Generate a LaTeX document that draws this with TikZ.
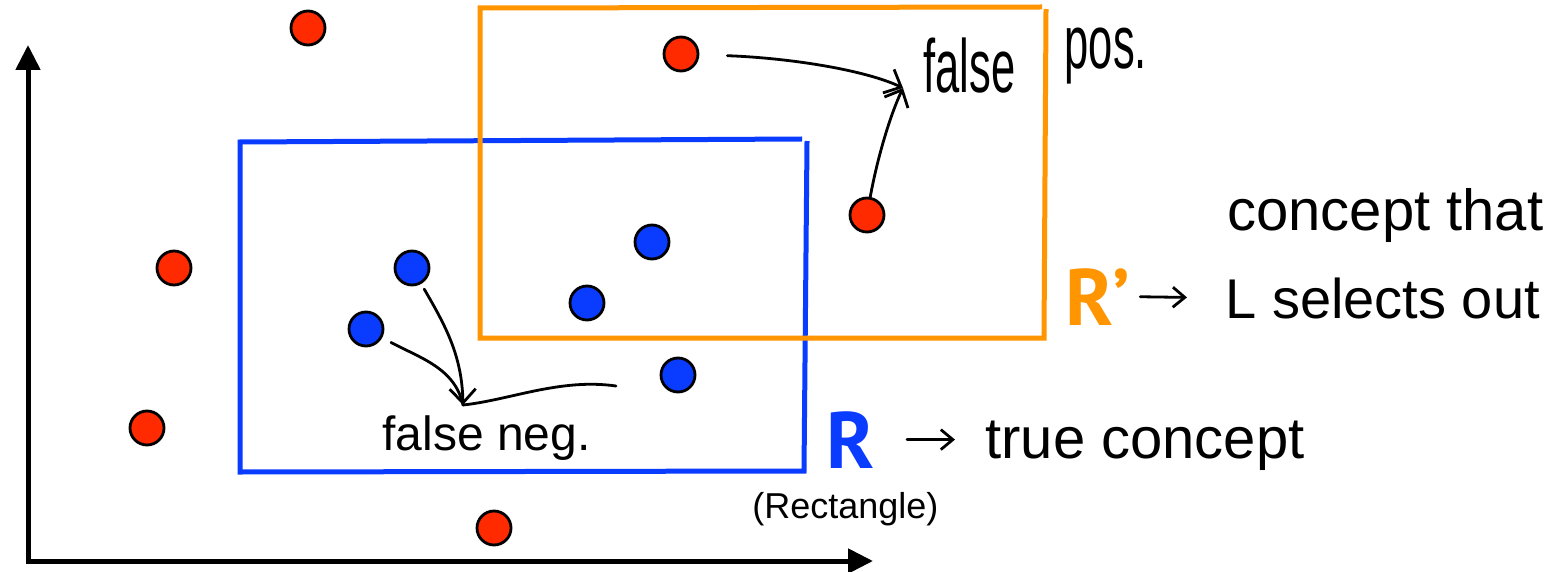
\documentclass[tikz,border=0pt]{standalone}
\usepackage{fontspec}
\setmainfont{Liberation Sans}
\newfontfamily\labelfont{PT Sans}
\usetikzlibrary{arrows.meta}
\definecolor{rorange}{HTML}{FF9500}
\definecolor{rblue}{HTML}{0A3CFF}
\definecolor{dotred}{HTML}{FF2A00}
\begin{document}
\begin{tikzpicture}[x=0.5pt,y=-0.5pt,
  dot/.style={circle,draw=black,line width=1.4pt,minimum size=17pt,inner sep=0pt},
  reddot/.style={dot,fill=dotred},
  bluedot/.style={dot,fill=rblue},
  hand/.style={line width=1.4pt,line cap=round,line join=round},
  barb/.style={-{Straight Barb[length=7pt,width=13pt]}},
  smallbarb/.style={-{Straight Barb[length=6pt,width=10pt]}},
  hw/.style={inner sep=0pt,anchor=base west},
  axisline/.style={line width=2.5pt,{Triangle[length=12.5pt,width=12pt]}-{Triangle[length=12.5pt,width=12pt]}},
  boxline/.style={line width=2.5pt,line join=miter}]
\fill[white] (0,0) rectangle (1561,572);
\useasboundingbox (0,0) rectangle (1561,572);

% axes
\coordinate (O) at (28,561);
\coordinate (Ytop) at (28,45);
\coordinate (Xend) at (873,561);
\draw[axisline] (Ytop) -- (O) -- (Xend);

% rectangles
\draw[boxline,rblue] (802,139) -- (240,142) -- (240,472) -- (804,471) -- (807,141);
\draw[boxline,rorange] (1042,7) -- (480,8) -- (480,338) -- (1044,338) -- (1046,9);

% dots
\node[reddot] (rp1) at (308,28) {};
\node[reddot] (rp2) at (681,54) {};
\node[reddot] (rp3) at (867,215) {};
\node[reddot] (rp4) at (174,268) {};
\node[reddot] (rp5) at (147,428) {};
\node[reddot] (rp6) at (494,528) {};
\node[bluedot] (bp1) at (412,268) {};
\node[bluedot] (bp2) at (366,329) {};
\node[bluedot] (bp3) at (652,242) {};
\node[bluedot] (bp4) at (587,303) {};
\node[bluedot] (bp5) at (678,375) {};

% texts
\node[hw] (fp) at (923,93) {\scalebox{0.75}[1.3]{\fontsize{29}{29}\selectfont false\hspace{33pt}\raisebox{9.6pt}{pos.}}};
\node[hw] (fn) at (382,450) {\fontsize{24}{24}\selectfont false neg.};
\node[hw] (ct) at (1227,230) {\fontsize{29}{29}\selectfont concept that};
\node[hw] (sel) at (1225,318) {\fontsize{28}{28}\selectfont L selects out};
\node[hw] (tc) at (985,458) {\fontsize{29}{29}\selectfont true concept};
\node[hw] (rect) at (752,518) {\fontsize{18}{18}\selectfont (Rectangle)};
\node[hw,text=rorange] (Rp) at (1065,325) {\labelfont\bfseries\fontsize{40}{40}\selectfont R’};
\node[hw,text=rblue] (R) at (826,468) {\labelfont\bfseries\fontsize{40}{40}\selectfont R};

% false positive arrows
\coordinate (fpTip) at (903,88);
\draw[hand,barb,shorten <=14pt] (rp2) .. controls (790,58) and (865,70) .. (fpTip);
\draw[hand,barb] (rp3) .. controls (876,165) and (888,120) .. (fpTip);

% false negative arrows
\coordinate (fnTip) at (463,405);
\coordinate (fnTail) at (616,386);
\draw[hand,barb,shorten <=3pt] (bp1) .. controls (445,325) and (462,355) .. (fnTip);
\draw[hand,shorten <=5pt] (bp2) .. controls (420,358) and (455,368) .. (fnTip);
\draw[hand] (fnTail) .. controls (560,378) and (510,400) .. (fnTip);

% label arrows
\draw[hand,smallbarb,shorten <=5pt,shorten >=19pt] (Rp.east) -- (sel.west);
\draw[hand,smallbarb,shorten <=16pt,shorten >=15pt] (R.east) -- (tc.west |- R.east);
\end{tikzpicture}
\end{document}
